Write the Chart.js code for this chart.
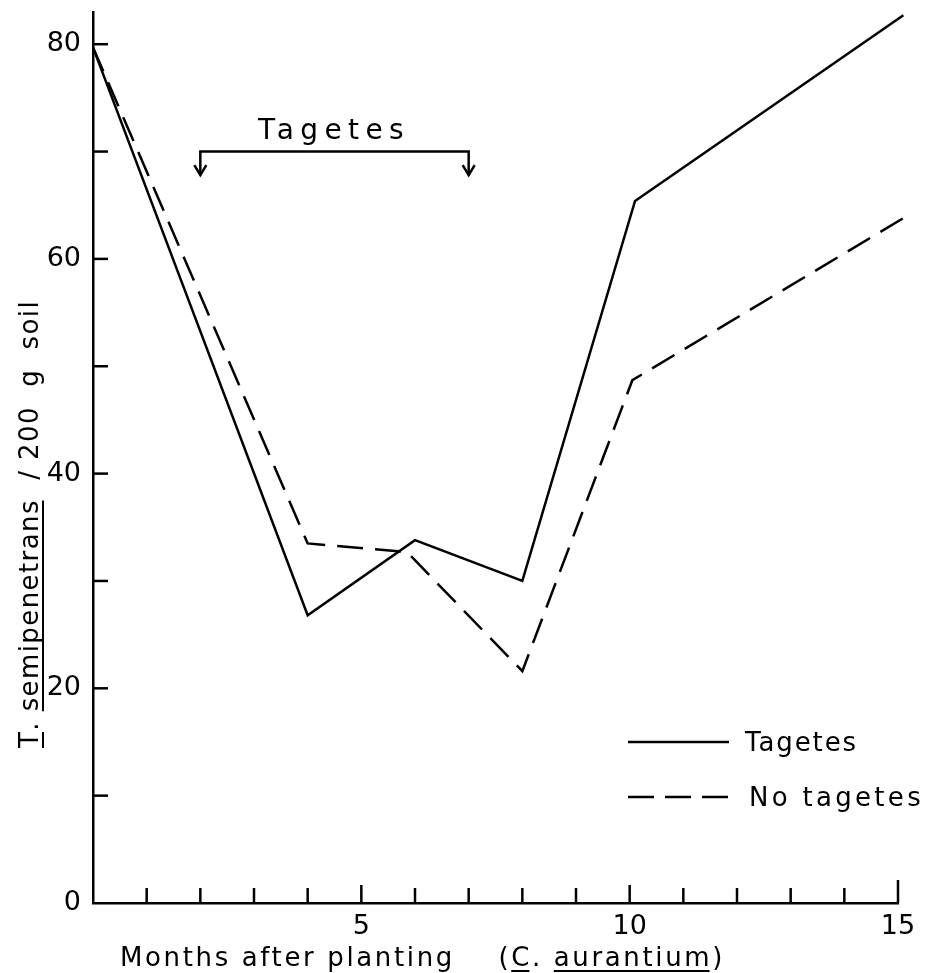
<!DOCTYPE html>
<html>
<head>
<meta charset="utf-8">
<script src="https://cdn.jsdelivr.net/npm/chart.js@4"></script>
<style>
  html, body { margin: 0; padding: 0; background: #fff; }
  #wrap { width: 927px; height: 973px; }
</style>
</head>
<body>
<div id="wrap"><canvas id="chart" width="927" height="973"></canvas></div>
<script>
// months after planting
const monthsTagetes = [0, 4, 6, 8, 10.1, 15.1];
const tagetes = [79.7, 26.8, 33.8, 30.0, 65.4, 82.7];
const monthsNoTagetes = [0, 4, 5.85, 8, 10.05, 15.1];
const noTagetes = [79.7, 33.5, 32.7, 21.6, 48.7, 63.8];

const xTickLabels = [5, 10, 15];
const yTickLabels = [0, 20, 40, 60, 80];
const seriesNames = ["Tagetes", "No tagetes"];

// tagetes treatment period (bracket)
const tagetesPeriod = [2, 7];
const bracketLevel = 70;
const bracketArrowTip = 67.8;

const FONT = "'DejaVu Sans', sans-serif";
const ink = "#000";

function toPoints(xs, ys) {
  return xs.map((x, i) => ({ x: x, y: ys[i] }));
}

// draw text in pieces, some underlined, stretched to a given width
function drawSpaced(ctx, parts, x, y, width, size) {
  ctx.font = size + "px " + FONT;
  ctx.letterSpacing = "0px";
  const full = parts.map(p => p.t).join("");
  const w0 = ctx.measureText(full).width;
  const ls = (width - w0) / full.length;
  ctx.letterSpacing = ls + "px";
  ctx.textAlign = "left";
  ctx.textBaseline = "alphabetic";
  let cx = x;
  parts.forEach(p => {
    const w = ctx.measureText(p.t).width;
    ctx.fillText(p.t, cx, y);
    if (p.u) {
      ctx.beginPath();
      ctx.lineWidth = 2;
      ctx.moveTo(cx, y + 5);
      ctx.lineTo(cx + w - ls, y + 5);
      ctx.stroke();
    }
    cx += w;
  });
  ctx.letterSpacing = "0px";
}

const decorations = {
  id: "decorations",
  afterDraw(chart) {
    const ctx = chart.ctx;
    const xs = chart.scales.x, ys = chart.scales.y;
    const bottom = ys.getPixelForValue(0);
    const left = xs.getPixelForValue(0);
    ctx.save();
    ctx.strokeStyle = ink;
    ctx.fillStyle = ink;
    ctx.lineCap = "butt";

    // inward ticks on x axis
    ctx.lineWidth = 2.5;
    for (let m = 1; m <= 15; m++) {
      const px = xs.getPixelForValue(m);
      const len = m === 15 ? 23 : (m % 5 === 0 ? 18 : 15);
      ctx.beginPath();
      ctx.moveTo(px, bottom);
      ctx.lineTo(px, bottom - len);
      ctx.stroke();
    }
    // inward ticks on y axis
    for (let v = 10; v <= 80; v += 10) {
      const py = ys.getPixelForValue(v);
      ctx.beginPath();
      ctx.moveTo(left, py);
      ctx.lineTo(left + 15, py);
      ctx.stroke();
    }

    // bracket marking the tagetes period
    const bx1 = xs.getPixelForValue(tagetesPeriod[0]);
    const bx2 = xs.getPixelForValue(tagetesPeriod[1]);
    const by = ys.getPixelForValue(bracketLevel);
    const tip = ys.getPixelForValue(bracketArrowTip);
    ctx.lineWidth = 2.5;
    ctx.beginPath();
    ctx.moveTo(bx1, tip);
    ctx.lineTo(bx1, by);
    ctx.lineTo(bx2, by);
    ctx.lineTo(bx2, tip);
    ctx.stroke();
    [bx1, bx2].forEach(bx => {
      ctx.beginPath();
      ctx.moveTo(bx - 6, tip - 10);
      ctx.lineTo(bx, tip);
      ctx.lineTo(bx + 6, tip - 10);
      ctx.stroke();
    });
    drawSpaced(ctx, [{ t: seriesNames[0] }], 258, 139, 152, 28);

    // legend
    ctx.lineWidth = 2.5;
    ctx.setLineDash([]);
    ctx.beginPath();
    ctx.moveTo(628, 742);
    ctx.lineTo(729, 742);
    ctx.stroke();
    ctx.setLineDash([26, 11]);
    ctx.beginPath();
    ctx.moveTo(628, 797);
    ctx.lineTo(729, 797);
    ctx.stroke();
    ctx.setLineDash([]);
    drawSpaced(ctx, [{ t: seriesNames[0] }], 745, 751, 113, 26);
    drawSpaced(ctx, [{ t: seriesNames[1] }], 749, 806, 175, 26);

    // x axis title
    drawSpaced(ctx, [
      { t: "Months after planting    (" },
      { t: "C", u: true },
      { t: ". " },
      { t: "aurantium", u: true },
      { t: ")" }
    ], 120, 966, 605, 26);

    // y axis title (rotated)
    ctx.save();
    ctx.translate(38, 748);
    ctx.rotate(-Math.PI / 2);
    drawSpaced(ctx, [
      { t: "T", u: true },
      { t: ". " },
      { t: "semipenetrans", u: true },
      { t: "  / 200  g  soil" }
    ], 0, 0, 445, 26);
    ctx.restore();

    ctx.restore();
  }
};

new Chart(document.getElementById("chart"), {
  type: "scatter",
  data: {
    datasets: [
      {
        label: seriesNames[0],
        data: toPoints(monthsTagetes, tagetes),
        showLine: true,
        borderColor: ink,
        borderWidth: 2.5,
        pointRadius: 0,
        tension: 0,
        clip: false,
      },
      {
        label: seriesNames[1],
        data: toPoints(monthsNoTagetes, noTagetes),
        showLine: true,
        borderColor: ink,
        borderWidth: 2.5,
        borderDash: [26, 12],
        pointRadius: 0,
        tension: 0,
        clip: false,
      },
    ],
  },
  options: {
    responsive: false,
    animation: false,
    layout: { autoPadding: false, padding: { top: 12, right: 29, left: 0, bottom: 0 } },
    plugins: {
      legend: { display: false },
      tooltip: { enabled: false },
    },
    scales: {
      x: {
        type: "linear",
        min: 0,
        max: 15,
        grid: { display: false },
        border: { display: true, color: ink, width: 2.5 },
        ticks: {
          stepSize: 1,
          autoSkip: false,
          maxRotation: 0,
          padding: 0,
          color: ink,
          font: { family: FONT, size: 27 },
          callback: v => (xTickLabels.includes(v) ? String(v) : ""),
        },
        afterFit: s => { s.height = 70; s.paddingLeft = 0; s.paddingRight = 0; },
      },
      y: {
        min: 0,
        max: 83,
        grid: { display: false },
        border: { display: true, color: ink, width: 2.5 },
        ticks: {
          stepSize: 10,
          padding: 4,
          color: ink,
          font: { family: FONT, size: 27 },
          callback: v => (yTickLabels.includes(v) ? String(v) : ""),
        },
        afterFit: s => { s.width = 93; s.paddingTop = 0; s.paddingBottom = 0; },
      },
    },
  },
  plugins: [decorations],
});
</script>
</body>
</html>
